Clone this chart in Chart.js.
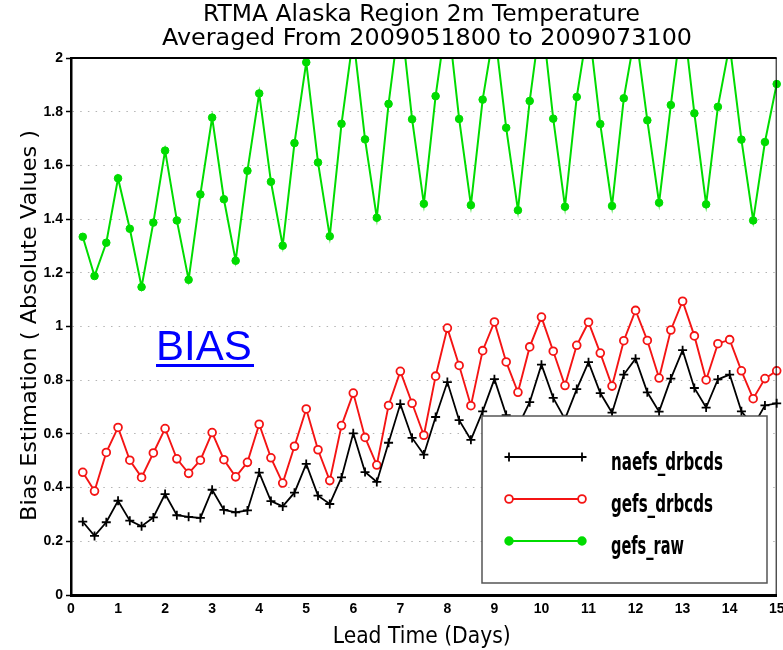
<!DOCTYPE html>
<html>
<head>
<meta charset="utf-8">
<script src="https://cdn.jsdelivr.net/npm/chart.js@4.4.1/dist/chart.umd.min.js"></script>
<style>
  html, body { margin: 0; padding: 0; background: #fff; }
  #chart { display: block; }
</style>
</head>
<body>
<canvas id="chart" width="783" height="650"></canvas>
<script>
// lead time in days, one value every 6 hours
const leadTimes = [
  0.25, 0.5, 0.75, 1, 1.25, 1.5, 1.75, 2, 2.25, 2.5, 2.75, 3, 3.25, 3.5, 3.75, 4, 4.25, 4.5, 4.75, 5,
  5.25, 5.5, 5.75, 6, 6.25, 6.5, 6.75, 7, 7.25, 7.5, 7.75, 8, 8.25, 8.5, 8.75, 9, 9.25, 9.5, 9.75, 10,
  10.25, 10.5, 10.75, 11, 11.25, 11.5, 11.75, 12, 12.25, 12.5, 12.75, 13, 13.25, 13.5, 13.75, 14, 14.25, 14.5, 14.75, 15
];

const naefsDrbcds = [
  0.273, 0.220, 0.271, 0.351, 0.277, 0.256, 0.289, 0.376, 0.297, 0.291, 0.287, 0.392, 0.317, 0.308, 0.315, 0.456, 0.350, 0.330, 0.381, 0.488,
  0.370, 0.339, 0.438, 0.602, 0.458, 0.421, 0.567, 0.711, 0.585, 0.523, 0.663, 0.793, 0.651, 0.578, 0.684, 0.804, 0.670, 0.628, 0.718, 0.858,
  0.734, 0.655, 0.767, 0.867, 0.752, 0.679, 0.821, 0.880, 0.755, 0.683, 0.806, 0.912, 0.771, 0.698, 0.803, 0.821, 0.684, 0.630, 0.706, 0.714
];

const gefsDrbcds = [
  0.457, 0.387, 0.531, 0.624, 0.502, 0.438, 0.529, 0.620, 0.507, 0.453, 0.502, 0.605, 0.504, 0.440, 0.494, 0.636, 0.511, 0.417, 0.554, 0.693,
  0.541, 0.426, 0.631, 0.752, 0.587, 0.484, 0.706, 0.833, 0.714, 0.595, 0.815, 0.994, 0.855, 0.705, 0.910, 1.017, 0.868, 0.755, 0.924, 1.035,
  0.908, 0.780, 0.930, 1.016, 0.901, 0.778, 0.947, 1.060, 0.948, 0.808, 0.987, 1.094, 0.965, 0.801, 0.936, 0.951, 0.835, 0.731, 0.806, 0.835
];

const gefsRaw = [
  1.334, 1.188, 1.312, 1.552, 1.364, 1.147, 1.387, 1.655, 1.395, 1.174, 1.492, 1.778, 1.474, 1.245, 1.580, 1.868, 1.539, 1.301, 1.683, 1.984,
  1.611, 1.336, 1.755, 2.08, 1.697, 1.405, 1.829, 2.17, 1.772, 1.457, 1.858, 2.17, 1.773, 1.452, 1.845, 2.11, 1.740, 1.433, 1.840, 2.17,
  1.774, 1.446, 1.855, 2.13, 1.754, 1.449, 1.850, 2.10, 1.768, 1.461, 1.825, 2.17, 1.794, 1.455, 1.818, 2.05, 1.696, 1.395, 1.687, 1.903
];

const seriesNames = ["naefs_drbcds", "gefs_drbcds", "gefs_raw"];
const titleLines = ["RTMA Alaska Region 2m Temperature", "Averaged From 2009051800 to 2009073100"];
const yTitle = "Bias Estimation ( Absolute Values )";
const xTitle = "Lead Time (Days)";
const noteText = "BIAS";

const BLACK = "#000000";
const RED = "#f41414";
const GREEN = "#00dc00";
const FONT = "'DejaVu Sans', 'Liberation Sans', sans-serif";

function toPoints(values) {
  return values.map((v, i) => ({ x: leadTimes[i], y: v }));
}

// draw text squeezed/stretched to a given width (the original uses a narrow stroke font)
function fitText(ctx, text, x, y, width, font, align, angle) {
  ctx.save();
  ctx.font = font;
  const w = ctx.measureText(text).width;
  ctx.translate(x, y);
  if (angle) ctx.rotate(angle);
  ctx.scale(width / w, 1);
  ctx.textAlign = align || "center";
  ctx.textBaseline = "alphabetic";
  ctx.fillText(text, 0, 0);
  ctx.restore();
}

const legendStyles = [
  { color: BLACK, pointStyle: "cross", radius: 4.5, fill: BLACK },
  { color: RED, pointStyle: "circle", radius: 3.9, fill: "#ffffff" },
  { color: GREEN, pointStyle: "circle", radius: 3.8, fill: GREEN },
];

const decorations = {
  id: "decorations",
  afterDraw(chart) {
    const ctx = chart.ctx;
    const area = chart.chartArea;

    // top and right frame
    ctx.save();
    ctx.strokeStyle = "#000";
    ctx.lineWidth = 2;
    ctx.beginPath();
    ctx.moveTo(area.left, area.top);
    ctx.lineTo(area.right, area.top);
    ctx.stroke();
    ctx.lineWidth = 1;
    ctx.beginPath();
    ctx.moveTo(area.right - 0.5, area.top);
    ctx.lineTo(area.right - 0.5, area.bottom);
    ctx.stroke();
    ctx.restore();

    ctx.fillStyle = "#000";
    fitText(ctx, titleLines[0], 421.5, 21, 437, "23px " + FONT);
    fitText(ctx, titleLines[1], 427, 45, 530, "23px " + FONT);
    fitText(ctx, xTitle, 421.7, 643, 178, "23px " + FONT);
    fitText(ctx, yTitle, 36, 325.5, 391, "22px " + FONT, "center", -Math.PI / 2);

    // BIAS note
    ctx.save();
    ctx.fillStyle = "#0000ff";
    ctx.font = "42px 'Liberation Sans', Arial, sans-serif";
    ctx.textAlign = "left";
    ctx.fillText(noteText, 156, 360);
    ctx.fillRect(156, 364, 98, 3);
    ctx.restore();

    // legend box (covers the data behind it)
    const box = { x: 482, y: 416, w: 285, h: 167 };
    ctx.save();
    ctx.fillStyle = "#fff";
    ctx.fillRect(box.x, box.y, box.w, box.h);
    ctx.strokeStyle = "#555";
    ctx.lineWidth = 1.5;
    ctx.strokeRect(box.x, box.y, box.w, box.h);
    const rows = [457, 499, 541];
    const widths = [112, 102, 73];
    seriesNames.forEach((name, i) => {
      const st = legendStyles[i];
      const y = rows[i];
      ctx.strokeStyle = st.color;
      ctx.lineWidth = 1.8;
      ctx.beginPath();
      ctx.moveTo(509, y);
      ctx.lineTo(582, y);
      ctx.stroke();
      [509, 582].forEach((px) => {
        ctx.fillStyle = st.fill;
        ctx.strokeStyle = st.color;
        ctx.lineWidth = 1.8;
        Chart.helpers.drawPoint(ctx, { pointStyle: st.pointStyle, radius: st.radius, borderWidth: 1.8, rotation: 0 }, px, y);
      });
      ctx.fillStyle = "#000";
      fitText(ctx, name, 611, y + 12.5, widths[i], "bold 24px " + FONT, "left");
    });
    ctx.restore();
  }
};

const tickFont = { family: "'Liberation Sans', Arial, sans-serif", size: 14, weight: "bold" };

new Chart(document.getElementById("chart"), {
  type: "line",
  data: {
    datasets: [
      {
        label: seriesNames[0],
        data: toPoints(naefsDrbcds),
        borderColor: BLACK,
        borderWidth: 1.8,
        pointStyle: "cross",
        pointRadius: 4.5,
        pointBorderWidth: 1.8,
        pointBorderColor: BLACK,
        pointBackgroundColor: BLACK,
        tension: 0,
        clip: { left: 8, right: 8, top: 0, bottom: 8 },
      },
      {
        label: seriesNames[1],
        data: toPoints(gefsDrbcds),
        borderColor: RED,
        borderWidth: 1.9,
        pointStyle: "circle",
        pointRadius: 3.9,
        pointBorderWidth: 1.8,
        pointBorderColor: RED,
        pointBackgroundColor: "#ffffff",
        tension: 0,
        clip: { left: 8, right: 8, top: 0, bottom: 8 },
      },
      {
        label: seriesNames[2],
        data: toPoints(gefsRaw),
        borderColor: GREEN,
        borderWidth: 2,
        pointStyle: "circle",
        pointRadius: 3.8,
        pointBorderWidth: 1,
        pointBorderColor: GREEN,
        pointBackgroundColor: GREEN,
        tension: 0,
        clip: { left: 8, right: 8, top: 0, bottom: 8 },
      },
    ],
  },
  options: {
    responsive: false,
    animation: false,
    layout: { padding: { top: 58, right: 1, left: 0, bottom: 0 } },
    plugins: {
      legend: { display: false },
      tooltip: { enabled: false },
      title: { display: false },
    },
    scales: {
      x: {
        type: "linear",
        min: 0,
        max: 15,
        afterFit: (s) => {
          s.height = 55;
          // let the last label hang over the edge, as in the original
          s.paddingLeft = 0;
          s.paddingRight = 0;
        },
        ticks: { stepSize: 1, color: "#000", font: tickFont, padding: 6, maxRotation: 0, autoSkip: false },
        grid: { display: false, drawTicks: false },
        border: { display: true, color: "#000", width: 3 },
      },
      y: {
        min: 0,
        max: 2,
        afterFit: (s) => { s.width = 71; },
        ticks: {
          stepSize: 0.2,
          color: "#000",
          font: tickFont,
          padding: 3,
          callback: (v) => String(Math.round(v * 10) / 10),
        },
        grid: {
          color: "#b4b4b4",
          lineWidth: 1,
          drawTicks: true,
          tickLength: 5,
          tickColor: "#000",
          tickWidth: 1.5,
          tickBorderDash: [],
        },
        border: { display: true, color: "#000", width: 2.5, dash: [1.5, 6.2] },
      },
    },
  },
  plugins: [decorations],
});
</script>
</body>
</html>
